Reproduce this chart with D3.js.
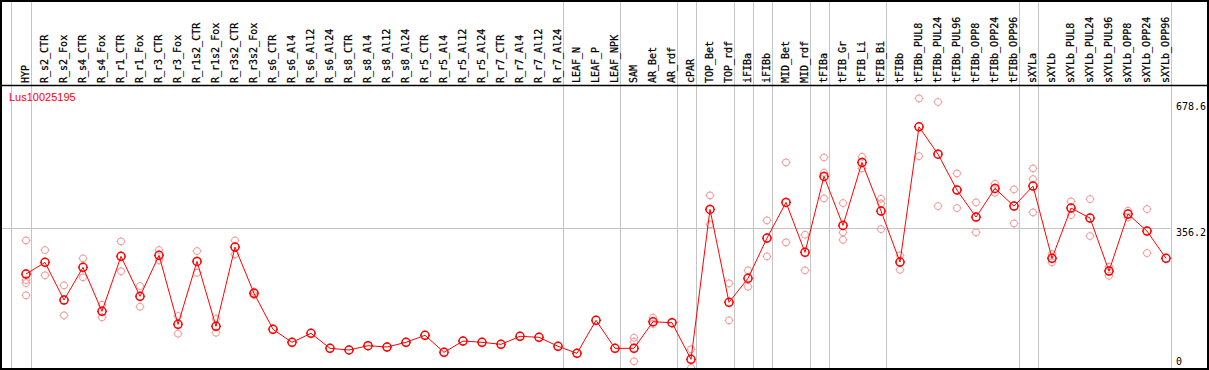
<!DOCTYPE html>
<html>
<head>
<meta charset="utf-8">
<script src="https://cdn.jsdelivr.net/npm/d3@7"></script>
<style>
  body { margin: 0; background: #fff; }
  svg { display: block; }
</style>
</head>
<body>
<svg id="chart"></svg>
<script>
// gene shown
var geneName = "Lus10025195";

// sample columns
var samples = ["HYP", "R_s2_CTR", "R_s2_Fox", "R_s4_CTR", "R_s4_Fox", "R_r1_CTR", "R_r1_Fox",
  "R_r3_CTR", "R_r3_Fox", "R_r1s2_CTR", "R_r1s2_Fox", "R_r3s2_CTR", "R_r3s2_Fox",
  "R_s6_CTR", "R_s6_Al4", "R_s6_Al12", "R_s6_Al24", "R_s8_CTR", "R_s8_Al4", "R_s8_Al12", "R_s8_Al24",
  "R_r5_CTR", "R_r5_Al4", "R_r5_Al12", "R_r5_Al24", "R_r7_CTR", "R_r7_Al4", "R_r7_Al12", "R_r7_Al24",
  "LEAF_N", "LEAF_P", "LEAF_NPK", "SAM", "AR_Bet", "AR_rdf", "cPAR", "TOP_Bet", "TOP_rdf",
  "iFIBa", "iFIBb", "MID_Bet", "MID_rdf", "tFIBa", "tFIB_Gr", "tFIB_Li", "tFIB_Bi", "tFIBb",
  "tFIBb_PUL8", "tFIBb_PUL24", "tFIBb_PUL96", "tFIBb_OPP8", "tFIBb_OPP24", "tFIBb_OPP96",
  "sXYLa", "sXYLb", "sXYLb_PUL8", "sXYLb_PUL24", "sXYLb_PUL96", "sXYLb_OPP8", "sXYLb_OPP24", "sXYLb_OPP96"];

// mean expression per sample
var means = [239.7, 269.5, 173.4, 256.8, 144.6, 284.8, 182.8, 287.4, 111.4, 272.0, 106.3, 308.5, 190.5,
  98.7, 65.5, 88.5, 50.2, 45.9, 56.9, 53.5, 65.5, 83.4, 40.0, 68.8, 65.5, 60.4, 80.8, 78.3, 55.3,
  37.5, 121.6, 50.2, 50.2, 118.0, 115.5, 22.2, 404.6, 167.5, 228.7, 331.5, 422.5, 295.0,
  488.8, 363.8, 524.5, 400.3, 270.3, 615.3, 545.6, 453.8, 385.0, 458.2, 413.0,
  464.0, 279.7, 408.0, 382.5, 247.3, 392.7, 349.3, 279.7];

// replicate values per sample
var replicates = [
  [325.6, 224.4, 216.7, 185.4], [300.9, 236.4], [210.9, 134.4], [279.7, 231.3], [161.4, 129.3],
  [323.0, 246.6], [209.1, 156.3], [300.9, 274.6], [132.6, 87.5], [298.3, 243.0], [124.9, 90.0],
  [325.6, 289.9], [195.0, 186.0],
  [], [], [], [], [], [], [], [], [], [], [], [], [], [], [], [],
  [], [], [], [77.3, 67.1, 17.1], [128.3, 112.2], [], [47.7, 0],
  [440.3, 366.4], [216.0, 121.6], [249.1, 207.3], [376.6, 284.8], [524.5, 320.5], [339.9, 249.1],
  [537.2, 498.0, 432.7], [420.7, 346.0, 327.1], [538.8, 509.2], [431.7, 419.9, 354.4], [287.4, 250.6],
  [687.7, 540.5], [678.6, 413.0], [496.4, 408.0], [422.5, 346.0], [469.9, 447.0], [455.6, 368.9],
  [509.2, 481.9, 397.0], [290.7, 269.5], [425.0, 390.1], [430.9, 336.6], [258.3, 235.3],
  [401.1, 384.2], [405.4, 293.2], []];

// last sample of each group (separator drawn after it)
var groupEnds = ["HYP", "R_r7_Al24", "LEAF_NPK", "AR_rdf", "cPAR", "TOP_rdf", "iFIBa", "iFIBb",
  "MID_rdf", "tFIBa", "tFIB_Bi", "tFIBb_OPP96", "sXYLa", "sXYLb_OPP96"];

// y tick labels on the right
var yTicks = [0, 356.2, 678.6];

var width = 1209, height = 370;
var headerBottom = 85, plotBottom = 368;

var svg = d3.select("#chart").attr("width", width).attr("height", height);

var x = d3.scalePoint().domain(samples).range([26, 1166]);
var step = x.step();
var y = d3.scaleLinear().domain([0, 678.6]).range([plotBottom, 102]);

// vertical separators
var sepX = [x(samples[0]) - step + 3.7].concat(groupEnds.map(function(d) { return x(d) + 4.7; }));
svg.append("g").selectAll("line").data(sepX).enter().append("line")
    .attr("x1", function(d) { return Math.round(d) + 0.5; })
    .attr("x2", function(d) { return Math.round(d) + 0.5; })
    .attr("y1", 0).attr("y2", plotBottom)
    .attr("stroke", "#c4c4c4").attr("stroke-width", 1);

// horizontal grid at middle tick
var gridRight = x(samples[samples.length - 1]) + 4.7;
svg.append("g").selectAll("line").data(yTicks.slice(1, 2)).enter().append("line")
    .attr("x1", 1).attr("x2", Math.round(gridRight) + 0.5)
    .attr("y1", function(d) { return Math.round(y(d)) + 0.5; })
    .attr("y2", function(d) { return Math.round(y(d)) + 0.5; })
    .attr("stroke", "#c4c4c4").attr("stroke-width", 1);

// header labels
svg.append("g").selectAll("text").data(samples).enter().append("text")
    .attr("transform", function(d) { return "translate(" + (x(d) + 3) + "," + (headerBottom - 2) + ") rotate(-90)"; })
    .attr("font-family", "DejaVu Sans Mono, monospace")
    .attr("font-size", "10px")
    .attr("fill", "#000")
    .attr("stroke", "#000")
    .attr("stroke-width", 0.25)
    .text(function(d) { return d; });

// y labels
svg.append("g").selectAll("text").data(yTicks).enter().append("text")
    .attr("x", 1176)
    .attr("y", function(d) { return d === 0 ? y(d) - 3 : y(d) + 8; })
    .attr("font-family", "DejaVu Sans Mono, monospace")
    .attr("font-size", "10px")
    .attr("fill", "#000")
    .text(function(d) { return d === 0 ? "0" : d3.format(".1f")(d); });

// gene name
svg.append("text")
    .attr("x", 9).attr("y", 101)
    .attr("font-family", "Liberation Sans, Arial, sans-serif")
    .attr("font-size", "11px")
    .attr("fill", "#ff0000")
    .text(geneName);

function marker(g, r, color, sw) {
  g.append("circle").attr("r", r).attr("fill", "none").attr("stroke", color).attr("stroke-width", sw);
  g.append("path")
    .attr("d", "M0," + (-r - 1) + "V" + (-r + 0.5) + "M0," + (r - 0.5) + "V" + (r + 1) +
               "M" + (-r - 1) + ",0H" + (-r + 0.5) + "M" + (r - 0.5) + ",0H" + (r + 1))
    .attr("stroke", color).attr("stroke-width", 1);
}

// replicate points
var repPts = [];
samples.forEach(function(s, i) {
  replicates[i].forEach(function(v) { repPts.push({s: s, v: v}); });
});
svg.append("g").selectAll("g").data(repPts).enter().append("g")
    .attr("transform", function(d) { return "translate(" + x(d.s) + "," + y(d.v) + ")"; })
    .each(function() { marker(d3.select(this), 3.5, "#f09a9a", 1); });

// mean line
var line = d3.line()
    .x(function(d, i) { return x(samples[i]); })
    .y(function(d) { return y(d); });
svg.append("path").datum(means)
    .attr("d", line)
    .attr("fill", "none")
    .attr("stroke", "#ff0000")
    .attr("stroke-width", 1);

// mean markers
svg.append("g").selectAll("g").data(means).enter().append("g")
    .attr("transform", function(d, i) { return "translate(" + x(samples[i]) + "," + y(d) + ")"; })
    .each(function() { marker(d3.select(this), 4, "#ff0000", 1.5); });

// header line and frame
svg.append("line")
    .attr("x1", 0).attr("x2", width).attr("y1", headerBottom + 0.5).attr("y2", headerBottom + 0.5)
    .attr("stroke", "#000").attr("stroke-width", 1.5);
svg.append("rect")
    .attr("x", 1).attr("y", 1).attr("width", width - 2).attr("height", plotBottom)
    .attr("fill", "none").attr("stroke", "#000").attr("stroke-width", 2);
</script>
</body>
</html>
